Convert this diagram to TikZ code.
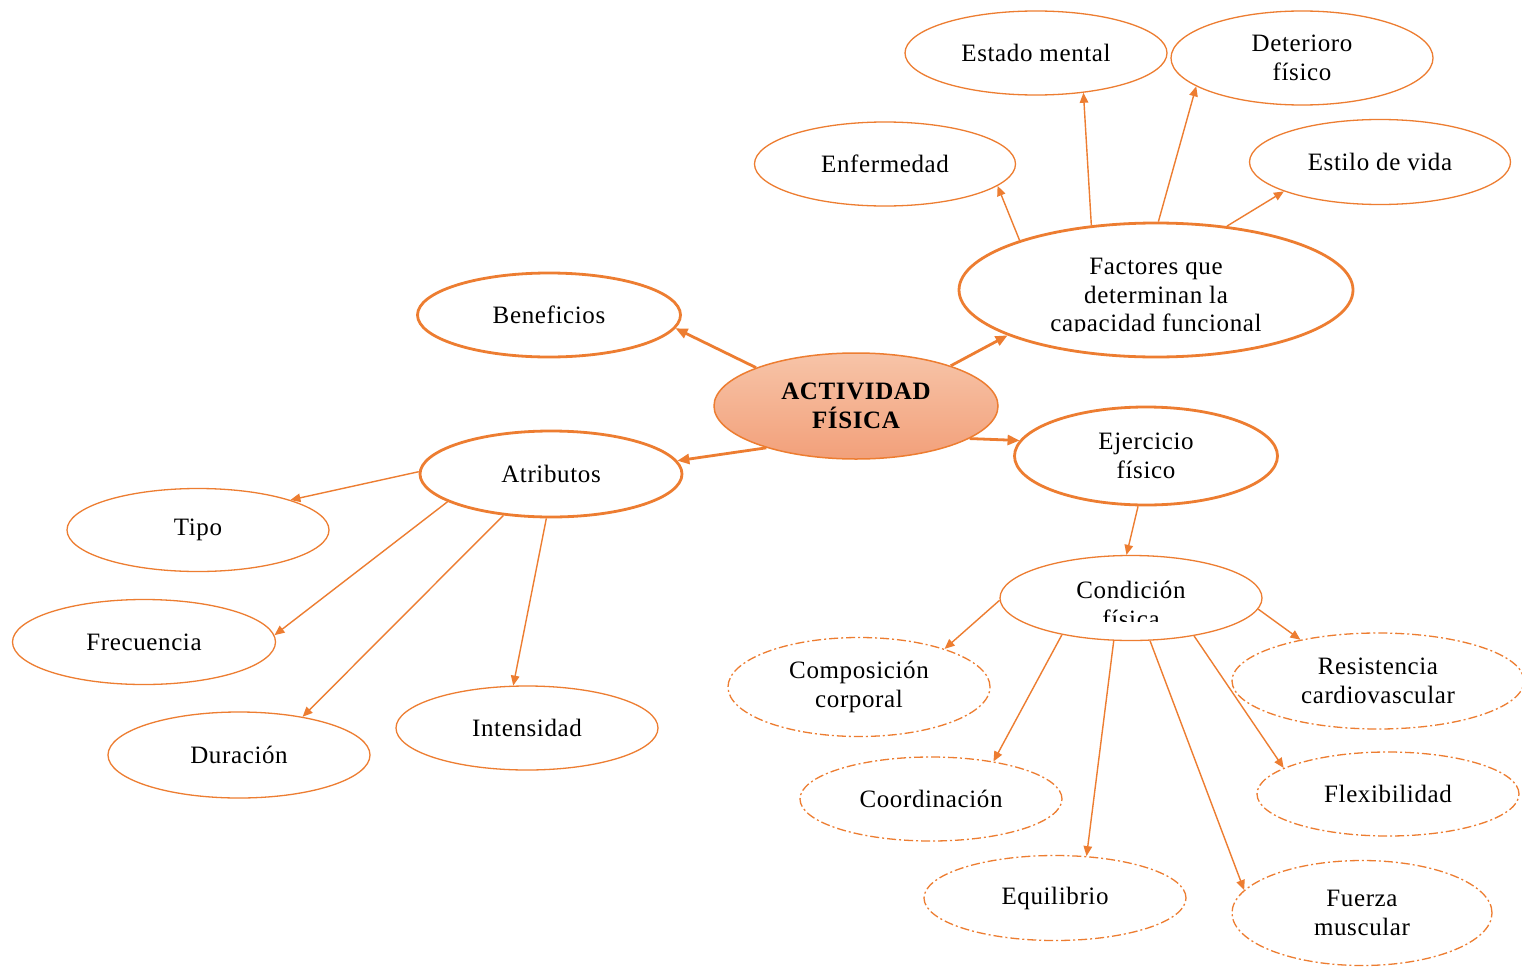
\documentclass[tikz,border=0pt]{standalone}
\usepackage{fontspec}
\setmainfont[LetterSpace=2.5]{Liberation Serif}
\usetikzlibrary{shapes.geometric,arrows.meta}
\definecolor{orc}{HTML}{ED7D31}
\definecolor{ftop}{HTML}{F7C4A8}
\definecolor{fbot}{HTML}{F2A07A}
\newcommand\fs{\fontsize{25}{28.5}\selectfont}
\tikzset{
  ebase/.style={ellipse, draw=orc, align=center, inner sep=0pt, font=\fs},
  ethin/.style={ebase, line width=1.3pt},
  ethick/.style={ebase, line width=2.8pt},
  edd/.style={ebase, line width=1.3pt, dash pattern=on 9pt off 3pt on 2pt off 3pt},
  sz/.style 2 args={minimum width=#1pt, minimum height=#2pt},
  ar/.style={draw=orc, line width=1.4pt, -{Triangle[length=10pt,width=8.5pt]}},
  arth/.style={draw=orc, line width=2.8pt, -{Triangle[length=12pt,width=10pt]}},
  txt/.style={font=\fs, align=center, inner sep=0pt},
}
\begin{document}
\begin{tikzpicture}[x=1pt,y=-1pt]
\useasboundingbox (0,0) rectangle (1522,966);
\fill[white] (0,0) rectangle (1522,966);
% nodes
\node[ethin, sz={262}{84}] (em) at (1036,53) {Estado mental};
\node[ethin, sz={262}{94}] (det) at (1302,58) {Deterioro\\físico};
\node[ethin, sz={261}{84}] (enf) at (885,164) {Enfermedad};
\node[ethin, sz={261}{85}] (est) at (1380,162) {Estilo de vida};
\node[ethick, sz={394}{134}] (fac) at (1156,290) {};
\begin{scope}
  \clip (950,220) rectangle (1360,331);
  \node[txt] (factxt) at (1156,297.5) {Factores que\\determinan la\\capacidad funcional};
\end{scope}
\node[ethick, sz={263}{84}] (ben) at (549,315) {Beneficios};
\node[ebase, line width=1.5pt, top color=ftop, bottom color=fbot, sz={284}{106},
      font=\fs\bfseries] (af) at (856,406) {ACTIVIDAD\\FÍSICA};
\node[ethick, sz={262}{86}] (atr) at (551,474) {Atributos};
\node[ethick, sz={263}{98}] (ej) at (1146,456) {Ejercicio\\físico};
\node[ethin, sz={262}{83}] (tipo) at (198,530) {Tipo};
\node[ethin, sz={263}{85}] (fre) at (144,642) {Frecuencia};
\node[ethin, sz={262}{86}] (dur) at (239,755) {Duración};
\node[ethin, sz={262}{84}] (int) at (527,728) {Intensidad};
\node[ethin, sz={262}{85}] (con) at (1131,598) {};
\begin{scope}
  \clip (1000,570) rectangle (1262,621);
  \node[txt] (contxt) at (1131,604.5) {Condición\\física};
\end{scope}
\node[edd, sz={262}{99}] (comp) at (859,687) {Composición\\corporal};
\node[edd, sz={292}{96}] (res) at (1378,681) {Resistencia\\cardiovascular};
\node[edd, sz={262}{84}] (flex) at (1388,794) {Flexibilidad};
\node[edd, sz={262}{84}] (coor) at (931,799) {Coordinación};
\node[edd, sz={262}{85}] (equ) at (1055,898) {Equilibrio};
\node[edd, sz={260}{105}] (fue) at (1362,913) {Fuerza\\muscular};
% connectors
\draw[arth] (af.159) -- (ben.354);
\draw[arth] (af.23) -- (fac.197);
\draw[arth] (af.205) -- (atr.6);
\draw[arth] (af.344) -- (ej.173);
\draw[ar] (fac.160) -- (enf.349);
\draw[ar] (fac.135) -- (em.320);
\draw[ar] (fac.88) -- (det.195);
\draw[ar] (fac.42) -- (est.197);
\draw[ar] (atr.179) -- (tipo.18);
\draw[ar] (atr.195) -- (fre.3);
\draw[ar] (atr.221) -- (dur.31);
\draw[ar] (atr.264) -- (int.108);
\draw[ar] (ej.261) -- (con.96);
\draw[ar] (con.181) -- (comp.24);
\draw[ar] (con.208) -- (coor.31);
\draw[ar] (con.248) -- (equ.53);
\draw[ar] (con.294) -- (fue.169);
\draw[ar] (con.329) -- (flex.166);
\draw[ar] (con.355) -- (res.152);
\end{tikzpicture}
\end{document}
